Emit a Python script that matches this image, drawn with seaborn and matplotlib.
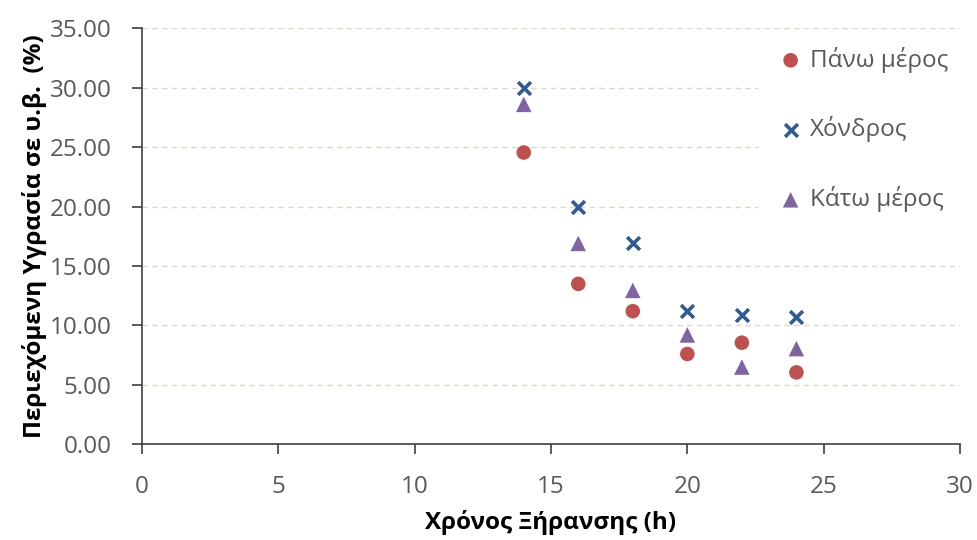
import matplotlib
matplotlib.use("Agg")
import matplotlib.pyplot as plt
import seaborn as sns
import pandas as pd

# Drying time (h) and moisture content on wet basis (%)
hours = [14, 16, 18, 20, 22, 24]
top_part = [24.55, 13.5, 11.2, 7.6, 8.55, 6.05]
thick_part = [29.95, 19.95, 16.95, 11.25, 10.9, 10.7]
bottom_part = [28.6, 16.9, 12.95, 9.2, 6.5, 8.05]

series_names = ["Πάνω μέρος", "Χόνδρος", "Κάτω μέρος"]
x_ticks = [0, 5, 10, 15, 20, 25, 30]
y_ticks = [0, 5, 10, 15, 20, 25, 30, 35]

df = pd.DataFrame({
    "hours": hours * 3,
    "moisture": top_part + thick_part + bottom_part,
    "series": [series_names[0]] * 6 + [series_names[1]] * 6 + [series_names[2]] * 6,
})

sns.set_theme(style="white")
plt.rcParams["font.family"] = ["Open Sans", "DejaVu Sans"]

fig = plt.figure(figsize=(9.78, 5.4), dpi=100)
ax = fig.add_axes([0.1452, 0.1772, 0.9816 - 0.1452, 0.9476 - 0.1772])

styles = {
    series_names[0]: dict(marker="o", color="#C0504D", s=110, edgecolor="none"),
    series_names[1]: dict(marker="x", color="#2F5D93", s=85, linewidth=2.6),
    series_names[2]: dict(marker="^", color="#8064A2", s=125, edgecolor="none"),
}
for name in series_names:
    sub = df[df["series"] == name]
    sns.scatterplot(data=sub, x="hours", y="moisture", ax=ax, label=name,
                    zorder=3, **styles[name])

ax.set_xlim(0, 30)
ax.set_ylim(0, 35)
ax.set_xticks(x_ticks)
ax.set_yticks(y_ticks)
ax.set_xticklabels([str(t) for t in x_ticks])
ax.set_yticklabels([f"{t:.2f}" for t in y_ticks])

ax.grid(axis="y", color="#D9D9C6", linestyle=(0, (4, 3)), linewidth=1.0)
ax.grid(axis="x", visible=False)
ax.set_axisbelow(True)

for side in ["top", "right"]:
    ax.spines[side].set_visible(False)
for side in ["left", "bottom"]:
    ax.spines[side].set_color("#404040")
    ax.spines[side].set_linewidth(1.2)

ax.tick_params(axis="both", which="major", direction="out", length=7,
               width=1.2, color="#404040", labelsize=17.5, labelcolor="#595959",
               bottom=True, left=True)
ax.tick_params(axis="x", pad=15)
ax.tick_params(axis="y", pad=15)

ax.set_xlabel("Χρόνος Ξήρανσης (h)", fontsize=17.5, fontweight="bold",
              color="black", labelpad=8)
ax.set_ylabel("Περιεχόμενη Υγρασία σε υ.β.  (%)", fontsize=17.5,
              fontweight="bold", color="black", labelpad=2)

leg = ax.legend(loc="upper left", bbox_to_anchor=(0.7543, 0.985),
                borderaxespad=0.0,
                frameon=True, facecolor="white", edgecolor="white",
                framealpha=1.0, fontsize=17.5, labelspacing=1.8,
                handlelength=1.6, handletextpad=0.0, borderpad=0.5,
                markerscale=1.0)
for txt in leg.get_texts():
    txt.set_color("#595959")
leg.set_zorder(5)

fig.savefig("out.png", dpi=100)
